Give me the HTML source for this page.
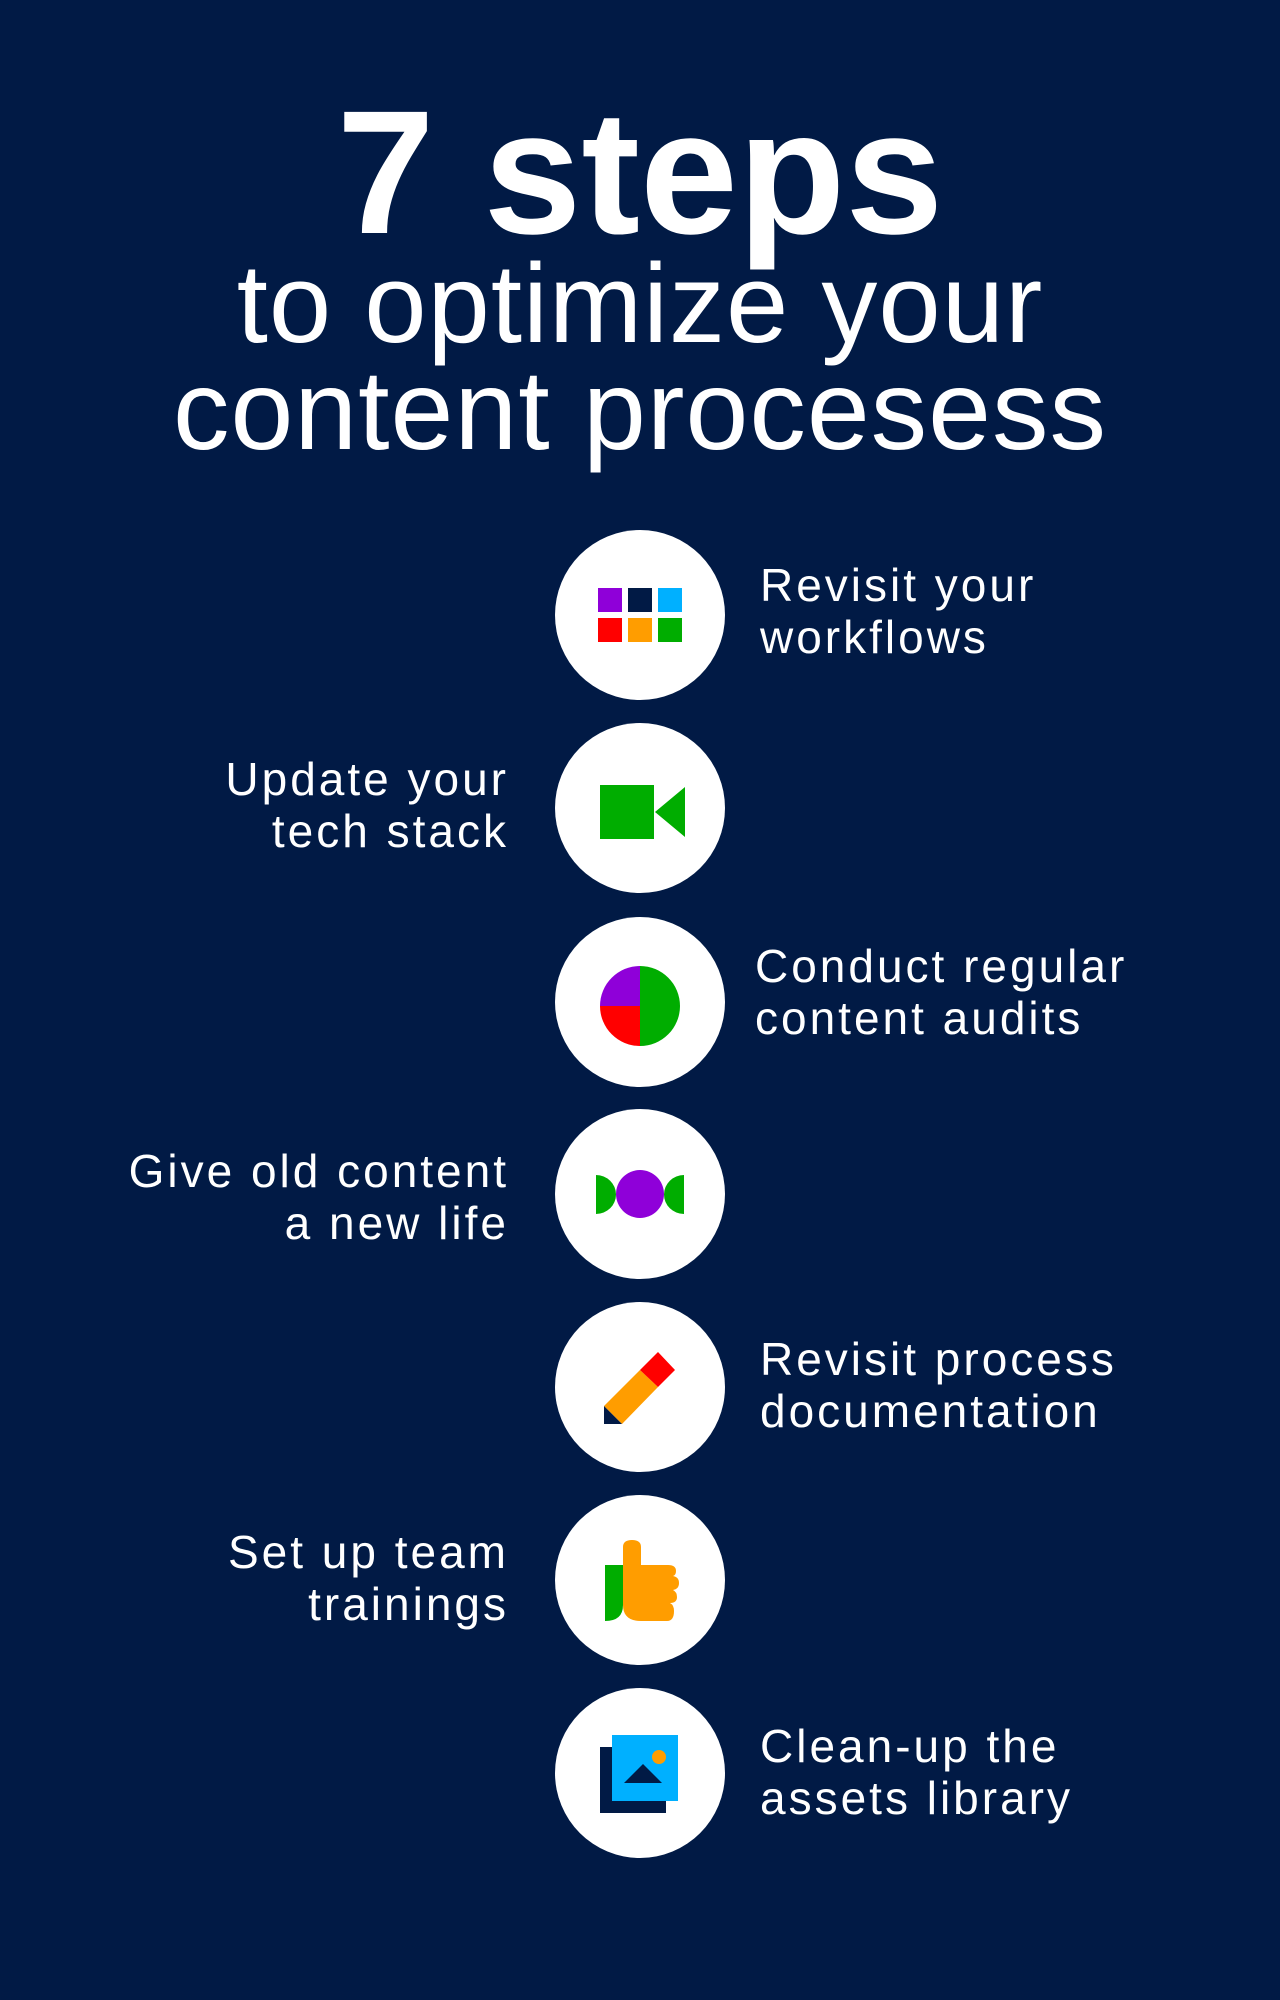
<!DOCTYPE html>
<html><head><meta charset="utf-8"><style>
html,body{margin:0;padding:0;background:#011a45;}
svg{display:block;}
text{font-family:"Liberation Sans",sans-serif;fill:#fff;}
</style></head><body>
<svg width="1280" height="2000" viewBox="0 0 1280 2000" xmlns="http://www.w3.org/2000/svg">
<rect width="1280" height="2000" fill="#011a45"/>
<text x="640" y="233" font-size="176" font-weight="bold" text-anchor="middle">7 steps</text>
<text x="640" y="342" font-size="112" text-anchor="middle" letter-spacing="1">to optimize your</text>
<text x="640" y="449" font-size="113" text-anchor="middle" letter-spacing="1">content procesess</text>

<g fill="#fff">
<circle cx="640" cy="615" r="85"/><circle cx="640" cy="808" r="85"/><circle cx="640" cy="1002" r="85"/>
<circle cx="640" cy="1194" r="85"/><circle cx="640" cy="1387" r="85"/><circle cx="640" cy="1580" r="85"/>
<circle cx="640" cy="1773" r="85"/>
</g>

<g transform="translate(555,530)">
<rect x="43" y="58" width="24" height="24" fill="#8f00d9"/>
<rect x="73" y="58" width="24" height="24" fill="#011a45"/>
<rect x="103" y="58" width="24" height="24" fill="#00b0ff"/>
<rect x="43" y="88" width="24" height="24" fill="#ff0000"/>
<rect x="73" y="88" width="24" height="24" fill="#ff9d00"/>
<rect x="103" y="88" width="24" height="24" fill="#00ad00"/>
</g>
<g transform="translate(555,723)" fill="#00ad00">
<rect x="45" y="62" width="54" height="54"/>
<polygon points="100,89 130,64 130,114"/>
</g>
<g transform="translate(555,917)">
<path d="M85,49 A40,40 0 0 1 85,129 Z" fill="#00ad00"/>
<path d="M85,89 L85,49 A40,40 0 0 0 45,89 Z" fill="#8f00d9"/>
<path d="M85,89 L45,89 A40,40 0 0 0 85,129 Z" fill="#ff0000"/>
</g>
<g transform="translate(555,1109)">
<circle cx="85" cy="85" r="24" fill="#8f00d9"/>
<path d="M41,66 A20,19.5 0 0 1 41,105 Z" fill="#00ad00"/>
<path d="M129,66 A20,19.5 0 0 0 129,105 Z" fill="#00ad00"/>
</g>
<g transform="translate(555,1302)">
<polygon points="49,104 67,122 103,85 85,68" fill="#ff9d00"/>
<polygon points="85,68 103,50 120,68 103,85" fill="#ff0000"/>
<polygon points="49,104 67,122 49,122" fill="#011a45"/>
</g>
<g transform="translate(555,1495)">
<path d="M50,70 L68,70 L68,110 Q68,126 50,126 Z" fill="#00ad00"/>
<path d="M68,52 Q68,45 77,45 Q86,45 86,52 L86,70 L113,70 Q121,70 121,76 Q121,80 118,81 Q124,82 124,88 Q124,94 118,95 Q122,97 122,102 Q122,108 115,108 Q119,110 119,116 Q119,126 112,126 L86,126 Q68,126 68,110 Z" fill="#ff9d00"/>
</g>
<g transform="translate(555,1688)">
<rect x="45" y="59" width="66" height="66" fill="#011a45"/>
<rect x="57" y="47" width="66" height="66" fill="#00b0ff"/>
<polygon points="69,95 88,76 107,95" fill="#011a45"/>
<circle cx="104" cy="69" r="7" fill="#ff9d00"/>
</g>

<g font-size="46" letter-spacing="3">
<text x="760" y="601">Revisit your</text>
<text x="760" y="653">workflows</text>
<text x="509" y="795" text-anchor="end">Update your</text>
<text x="509" y="847" text-anchor="end">tech stack</text>
<text x="755" y="982">Conduct regular</text>
<text x="755" y="1034">content audits</text>
<text x="509" y="1187" text-anchor="end">Give old content</text>
<text x="509" y="1239" text-anchor="end">a new life</text>
<text x="760" y="1375">Revisit process</text>
<text x="760" y="1427">documentation</text>
<text x="509" y="1568" text-anchor="end">Set up team</text>
<text x="509" y="1620" text-anchor="end">trainings</text>
<text x="760" y="1762">Clean-up the</text>
<text x="760" y="1814">assets library</text>
</g>
</svg>
</body></html>
